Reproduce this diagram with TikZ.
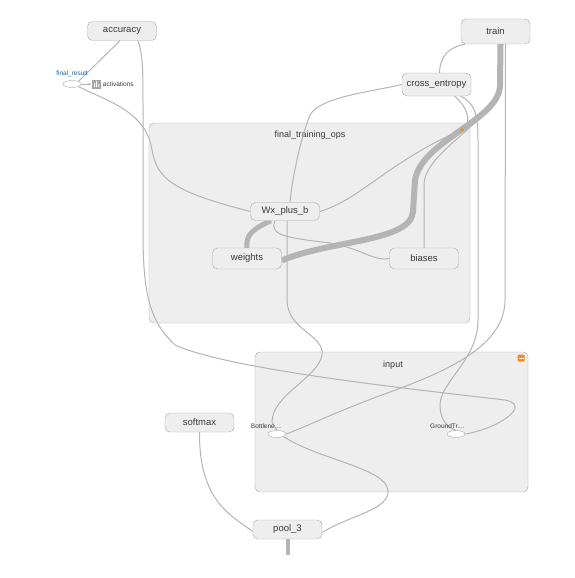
\documentclass[tikz,border=0pt]{standalone}
\usepackage{fontspec}
\setmainfont{Liberation Sans}
\usetikzlibrary{shapes.geometric, arrows.meta, positioning, calc}
\definecolor{opfill}{HTML}{EEEEEE}
\definecolor{opline}{HTML}{A8A8A8}
\definecolor{edgecol}{HTML}{B4B4B4}
\definecolor{optext}{HTML}{3A3A3A}
\definecolor{tfblue}{HTML}{1F5FA8}
\definecolor{tforange}{HTML}{F08A24}
\pgfdeclarelayer{clusters}
\pgfdeclarelayer{edges}
\pgfsetlayers{clusters,edges,main}

\begin{document}
\begin{tikzpicture}[
    x=1pt, y=-1pt,
    op/.style={rectangle, draw=opline, rounded corners=5pt, minimum width=69pt, minimum height=19pt, fill=opfill, text=optext, font=\fontsize{9.5}{11}\selectfont, inner sep=1pt},
    cluster/.style={rectangle, draw=opline, rounded corners=5pt, fill=opfill, inner sep=0pt},
    cluname/.style={text=optext, font=\fontsize{9}{11}\selectfont},
    leaf/.style={ellipse, draw=opline, fill=white, minimum width=18pt, minimum height=7pt, inner sep=0pt},
    leafname/.style={text=optext, font=\fontsize{6.5}{7}\selectfont, inner sep=0pt},
    edge/.style={draw=edgecol, line width=1pt},
    thickedge/.style={draw=edgecol, line width=6pt}
]
\useasboundingbox (0,0) rectangle (575,578);

% Clusters
\begin{pgfonlayer}{clusters}
\node[cluster, minimum width=321pt, minimum height=200pt] (training) at (309.5,223) {};
\node[cluname] at (310,135) {final\_training\_ops};
\node[cluster, minimum width=273pt, minimum height=140pt] (inputs) at (391.5,422) {};
\node[cluname] at (393,365) {input};
\end{pgfonlayer}
\fill[tforange] (462,130) circle (1.8);
\fill[tforange, rounded corners=1pt] (517.5,354.5) rectangle (524.5,361.5);
\draw[white, line width=1pt] (518.5,358) -- (523.5,358);

% Nodes
\node[op] (accuracy) at (122,31) {accuracy};
\node[op, minimum height=25pt] (train) at (495.5,31.5) {train};
\node[op, minimum height=23pt] (cross) at (436.5,84.5) {cross\_entropy};
\node[op, minimum height=18pt] (wx) at (285,211.5) {Wx\_plus\_b};
\node[op, minimum height=21pt] (weights) at (247,258.5) {weights};
\node[op, minimum height=21pt] (biases) at (424,258.5) {biases};
\node[op] (softmax) at (199.5,422.5) {softmax};
\node[op] (pool) at (287.5,529.5) {pool\_3};

\node[leaf] (result) at (72,84) {};
\node[leafname, text=tfblue, above=3pt of result] {final\_result};
\node[rectangle, fill=gray!70, minimum size=9pt, inner sep=0pt] (summary) at (96,84) {};
\draw[white, line width=0.8pt] (94,87) -- (94,83) (96,87) -- (96,81) (98,87) -- (98,84);
\node[leafname, right=2pt of summary] {activations};

\node[leaf] (bottle) at (277,434) {};
\node[leafname, above left=2.5pt and -11pt of bottle] {Bottlene\dots};
\node[leaf] (truth) at (456,434) {};
\node[leafname, above left=2.5pt and -15pt of truth] {GroundTr\dots};

% Connections
\begin{pgfonlayer}{edges}
\draw[edge] (result.north east) -- ([xshift=-2pt]accuracy.south);
\draw[edge] ([xshift=16pt]accuracy.south) .. controls (143,55) and (143,70) .. (143,110) -- (143,230) .. controls (143,290) and (148,320) .. (175,345) .. controls (230,370) and (420,390) .. (505,400) .. controls (532,405) and (500,428) .. (truth.east);
\draw[edge] (result.south east) .. controls (110,102) and (146,112) .. (152,150) .. controls (157,180) and (175,192) .. (wx.west);
\draw[edge, -{Stealth[length=3pt, width=3pt]}] (result.east) -- (summary.west);
\draw[edge] (cross.west) .. controls (370,92) and (320,97) .. (310,115) .. controls (300,140) and (292,180) .. ([xshift=5pt]wx.north);
\draw[edge] ([xshift=2pt]wx.south) -- (287,300) .. controls (287,330) and (325,335) .. (322,355) .. controls (318,378) and (272,395) .. (272,422) -- (bottle.north);
\draw[edge] ([xshift=3pt]cross.north) .. controls (440,55) and (450,47) .. ([xshift=4pt]train.south west);
\draw[edge] (biases.north) -- (424,185) .. controls (424,150) and (500,120) .. (500,80) -- ([xshift=5pt]train.south);
\draw[thickedge] ([xshift=5pt]train.south) -- (500,85) .. controls (500,120) and (422,140) .. (415,180) -- (413,212) .. controls (410,242) and (330,240) .. ([yshift=-2pt]weights.east);
\draw[thickedge, line width=5pt] (weights.north) .. controls (245,234) and (255,228) .. ([xshift=-14pt]wx.south);
\draw[edge] ([xshift=10pt]train.south) -- (505,300) .. controls (505,345) and (450,370) .. (390,392) .. controls (340,410) and (310,425) .. (bottle.east);
\draw[edge] (wx.east) .. controls (360,200) and (390,160) .. (466,128) .. controls (472,115) and (462,102) .. ([xshift=18pt]cross.south);
\draw[edge] ([xshift=24pt]cross.south) .. controls (475,103) and (478,115) .. (478,140) -- (478,320) .. controls (478,360) and (440,382) .. (440,405) .. controls (440,420) and (448,428) .. (truth.north);
\draw[edge] ([xshift=-10pt]wx.south) .. controls (268,236) and (290,238) .. (330,243) .. controls (360,248) and (375,262) .. (biases.west);
\draw[edge] (softmax.south) .. controls (199,500) and (230,515) .. ([yshift=-2pt]pool.west);
\draw[edge] (bottle.south east) .. controls (320,460) and (385,468) .. (388,490) .. controls (390,510) and (350,515) .. ([yshift=-3pt]pool.east);
\draw[edgecol, line width=4pt] (pool.south) -- ++(0,16);
\end{pgfonlayer}

\end{tikzpicture}
\end{document}
